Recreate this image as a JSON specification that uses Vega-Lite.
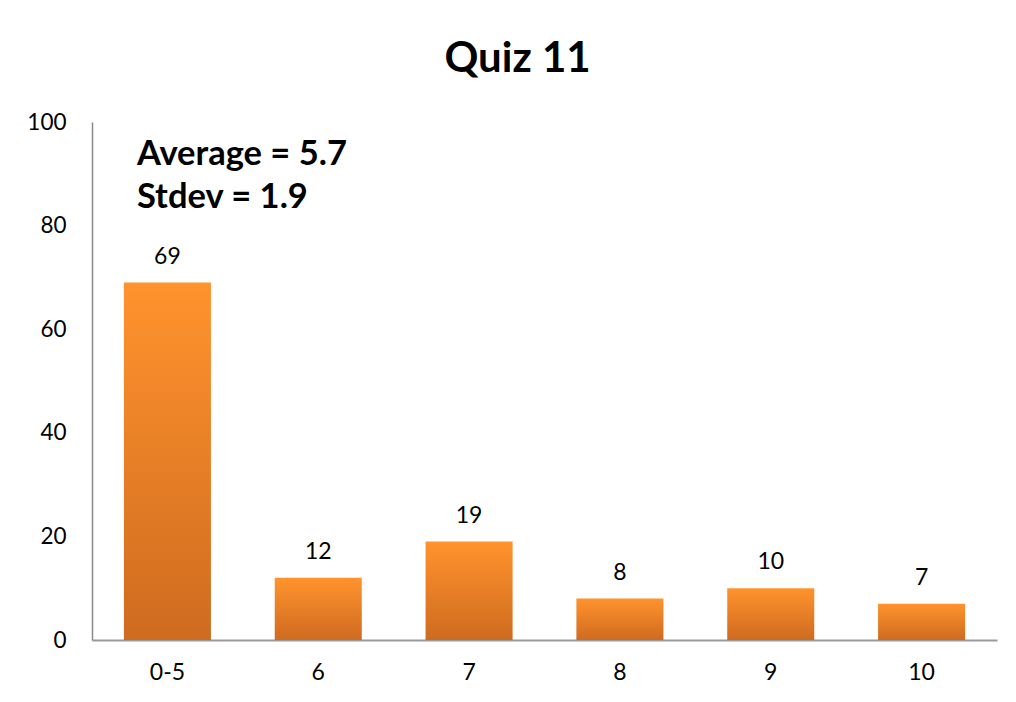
{
  "$schema": "https://vega.github.io/schema/vega-lite/v6.json",
  "width": 905,
  "height": 518,
  "autosize": {"type": "none"},
  "padding": {"left": 92, "top": 122, "right": 19, "bottom": 62},
  "background": "white",
  "title": {
    "text": "Quiz 11",
    "font": "Lato",
    "fontSize": 42,
    "fontWeight": "bold",
    "color": "#000000",
    "anchor": "middle",
    "dx": -27,
    "offset": 30
  },
  "config": {
    "view": {"stroke": null},
    "font": "Lato"
  },
  "layer": [
    {
      "data": {
        "values": [
          {"score": "0-5", "count": 69},
          {"score": "6", "count": 12},
          {"score": "7", "count": 19},
          {"score": "8", "count": 8},
          {"score": "9", "count": 10},
          {"score": "10", "count": 7}
        ]
      },
      "encoding": {
        "x": {
          "field": "score",
          "type": "ordinal",
          "sort": null,
          "scale": {"paddingInner": 0.423, "paddingOuter": 0.2115},
          "axis": {
            "title": null,
            "labelAngle": 0,
            "labelFont": "Lato",
            "labelFontSize": 23,
            "labelColor": "#000000",
            "labelPadding": 21,
            "ticks": false,
            "domainColor": "#9a9a9a",
            "domainWidth": 2
          }
        },
        "y": {
          "field": "count",
          "type": "quantitative",
          "scale": {"domain": [0, 100], "nice": false},
          "axis": {
            "title": null,
            "values": [0, 20, 40, 60, 80, 100],
            "grid": false,
            "ticks": false,
            "labelFont": "Lato",
            "labelFontSize": 22.5,
            "labelColor": "#000000",
            "labelPadding": 26,
            "domainColor": "#8a8a8a",
            "domainWidth": 1.5
          }
        }
      },
      "layer": [
        {
          "mark": {
            "type": "bar",
            "color": {
              "gradient": "linear",
              "x1": 0, "y1": 0, "x2": 0, "y2": 1,
              "stops": [
                {"offset": 0, "color": "#FF932D"},
                {"offset": 1, "color": "#CF6B20"}
              ]
            }
          }
        },
        {
          "mark": {
            "type": "text",
            "baseline": "bottom",
            "dy": -14,
            "font": "Lato",
            "fontSize": 23,
            "color": "#000000"
          },
          "encoding": {"text": {"field": "count", "type": "quantitative"}}
        }
      ]
    },
    {
      "data": {
        "values": [
          {"score": "0-5", "pos": 91.7, "label": "Average = 5.7"},
          {"score": "0-5", "pos": 83.4, "label": "Stdev = 1.9"}
        ]
      },
      "mark": {
        "type": "text",
        "align": "left",
        "baseline": "alphabetic",
        "dx": 13,
        "font": "Lato",
        "fontSize": 34.5,
        "fontWeight": "bold",
        "color": "#000000"
      },
      "encoding": {
        "x": {"field": "score", "type": "ordinal", "sort": null, "bandPosition": 0},
        "y": {"field": "pos", "type": "quantitative"},
        "text": {"field": "label"}
      }
    }
  ]
}
